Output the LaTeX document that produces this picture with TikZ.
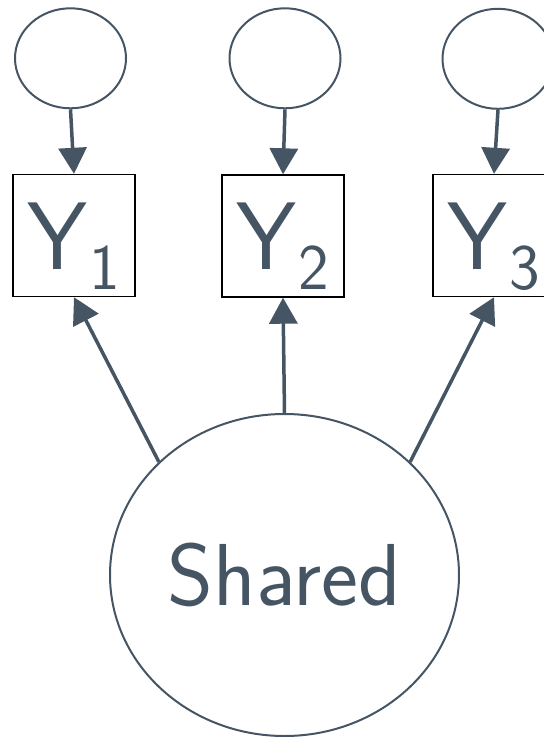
\documentclass[tikz,border=0pt]{standalone}
\usetikzlibrary{arrows.meta,shapes.geometric}
\definecolor{slate}{RGB}{70,85,100}
\newcommand{\subY}[1]{Y\kern2pt\raisebox{-20pt}{\fontsize{65}{65}\selectfont #1}}
\begin{document}
\begin{tikzpicture}[x=1pt,y=-1pt,
  errnode/.style={ellipse,draw=slate,line width=2pt,minimum width=111pt,minimum height=100pt,inner sep=0pt},
  obsbox/.style={rectangle,draw=black,line width=1.4pt,minimum width=122pt,minimum height=122pt,inner sep=0pt,
    text=slate,font=\sffamily\fontsize{96}{96}\selectfont,text height=67pt,text depth=0pt},
  latent/.style={ellipse,draw=slate,line width=2pt,minimum width=349pt,minimum height=322pt,inner sep=0pt,
    text=slate,font=\sffamily\fontsize{88}{88}\selectfont},
  arrowline/.style={draw=slate,line width=3.5pt,-{Triangle[width=28pt,length=26pt]}}]
\useasboundingbox (0,0) rectangle (544,737);
\node[errnode] (e1) at (70.5,58.3) {};
\node[errnode] (e2) at (285,58.3) {};
\node[errnode] (e3) at (498,58.8) {};
\node[obsbox] (y1) at (74,235.5) {\subY{1}};
\node[obsbox] (y2) at (283,236) {\subY{2}};
\node[obsbox] (y3) at (494,235.5) {\subY{3}};
\node[latent] (s) at (284.5,575) {Shared};
\draw[arrowline] (e1.south) -- (y1.north);
\draw[arrowline] (e2.south) -- (y2.north);
\draw[arrowline] (e3.south) -- (y3.north);
\draw[arrowline] (s.138) -- (y1.south);
\draw[arrowline] (s.north) -- (y2.south);
\draw[arrowline] (s.42) -- (y3.south);
\end{tikzpicture}
\end{document}
